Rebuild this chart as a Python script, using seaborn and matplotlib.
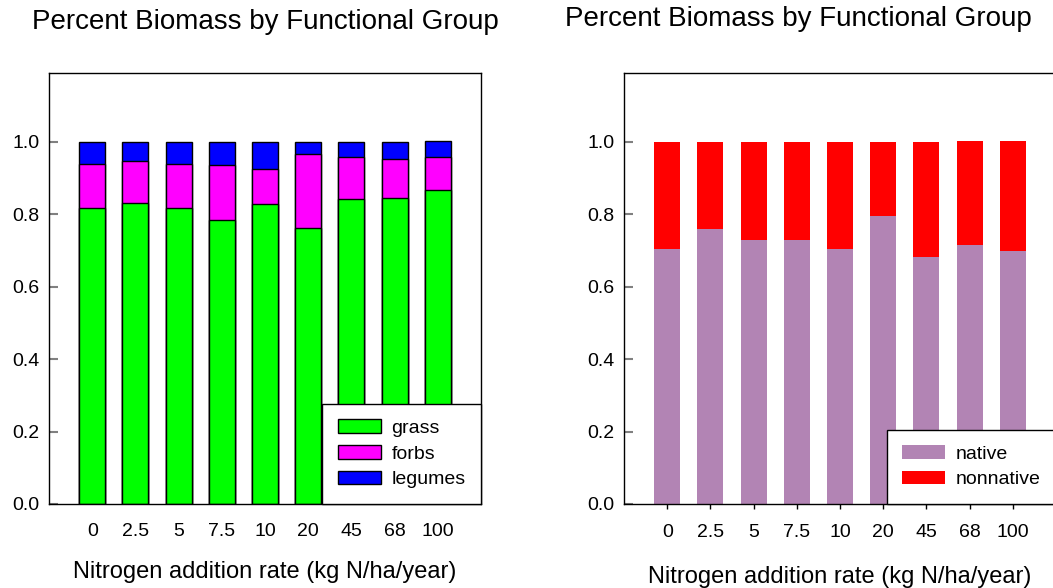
import matplotlib
matplotlib.use("Agg")
import matplotlib.pyplot as plt
import seaborn as sns
import numpy as np
from matplotlib.patches import Patch

# ---- data ----
rates = ["0", "2.5", "5", "7.5", "10", "20", "45", "68", "100"]
grass = [0.816, 0.830, 0.818, 0.783, 0.829, 0.762, 0.843, 0.844, 0.866]
forbs = [0.122, 0.118, 0.122, 0.153, 0.096, 0.204, 0.116, 0.109, 0.093]
legumes = [0.062, 0.052, 0.060, 0.064, 0.075, 0.034, 0.041, 0.047, 0.043]
native = [0.704, 0.760, 0.729, 0.730, 0.705, 0.796, 0.683, 0.715, 0.698]
nonnative = [0.296, 0.240, 0.271, 0.270, 0.295, 0.204, 0.317, 0.287, 0.304]

title_text = "Percent Biomass by Functional Group"
xlabel_text = "Nitrogen addition rate (kg N/ha/year)"

sns.set_style("white")
plt.rcParams["font.family"] = ["Liberation Sans", "DejaVu Sans"]
plt.rcParams["text.color"] = "black"
plt.rcParams["axes.labelcolor"] = "black"

W, H = 1053, 588
fig = plt.figure(figsize=(W / 100, H / 100), dpi=100)

def px_axes(left, top, right, bottom):
    return fig.add_axes([left / W, 1 - bottom / H, (right - left) / W, (bottom - top) / H])

ax1 = px_axes(49, 73, 481, 504)
ax2 = px_axes(624, 73, 1056, 504)

# ---- left: functional group (cumulative overlay) ----
g = np.array(grass)
f = np.array(forbs)
l = np.array(legumes)
layers1 = [(g + f + l, "#0000ff"), (g + f, "#ff00ff"), (g, "#00ff00")]
for vals, col in layers1:
    sns.barplot(x=rates, y=vals, order=rates, color=col, saturation=1, width=0.6,
                edgecolor="black", linewidth=1, errorbar=None, ax=ax1)

# ---- right: native / nonnative ----
n = np.array(native)
nn = np.array(nonnative)
layers2 = [(n + nn, "#ff0000"), (n, "#b284b4")]
for vals, col in layers2:
    sns.barplot(x=rates, y=vals, order=rates, color=col, saturation=1, width=0.6,
                linewidth=0, errorbar=None, ax=ax2)

for ax in (ax1, ax2):
    ax.set_xlim(-1, 9)
    ax.set_ylim(0, 1.19)
    ax.set_yticks([0.0, 0.2, 0.4, 0.6, 0.8, 1.0])
    ax.set_yticklabels(["0.0", "0.2", "0.4", "0.6", "0.8", "1.0"])
    for sp in ax.spines.values():
        sp.set_visible(True)
        sp.set_color("black")
        sp.set_linewidth(1)
    ax.tick_params(axis="y", direction="in", length=6.5, width=1.5, color="#808080",
                   labelsize=14, labelcolor="black", pad=7, left=True)
    ax.set_ylabel("")

ax1.tick_params(axis="x", length=0, labelsize=14, labelcolor="black", pad=14)
ax2.tick_params(axis="x", direction="out", length=3.6, width=1, color="black",
                labelsize=14, labelcolor="black", pad=10.5, bottom=True)

ax1.set_xlabel(xlabel_text, fontsize=17, labelpad=14.5)
ax2.set_xlabel(xlabel_text, fontsize=17, labelpad=18)

fig.text(265 / W, 1 - 22 / H, title_text, fontsize=20, ha="center", va="center")
fig.text(798 / W, 1 - 19 / H, title_text, fontsize=20, ha="center", va="center")

# legends
h1 = [Patch(facecolor="#00ff00", edgecolor="black", label="grass"),
      Patch(facecolor="#ff00ff", edgecolor="black", label="forbs"),
      Patch(facecolor="#0000ff", edgecolor="black", label="legumes")]
leg1 = ax1.legend(handles=h1, loc="lower right", bbox_to_anchor=(1, 0), borderaxespad=0,
                  fontsize=14, frameon=True, fancybox=False, edgecolor="black", framealpha=1,
                  handlelength=2.2, handleheight=0.7, handletextpad=0.55,
                  labelspacing=0.42, borderpad=0.8)
leg1.get_frame().set_linewidth(1)

h2 = [Patch(facecolor="#b284b4", edgecolor="none", label="native"),
      Patch(facecolor="#ff0000", edgecolor="none", label="nonnative")]
leg2 = ax2.legend(handles=h2, loc="lower right", bbox_to_anchor=(1, 0), borderaxespad=0,
                  fontsize=14, frameon=True, fancybox=False, edgecolor="black", framealpha=1,
                  handlelength=2.2, handleheight=0.7, handletextpad=0.55,
                  labelspacing=0.42, borderpad=0.8)
leg2.get_frame().set_linewidth(1)

fig.savefig("out.png", dpi=100)
